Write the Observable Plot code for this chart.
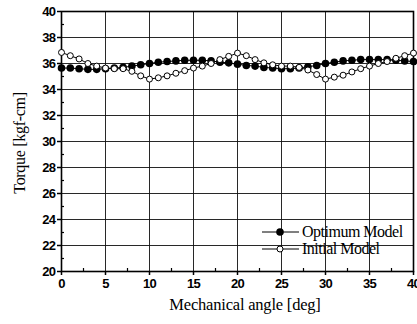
<!DOCTYPE html>
<html>
<head>
<meta charset="utf-8">
<script src="https://cdn.jsdelivr.net/npm/d3@7"></script>
<script src="https://cdn.jsdelivr.net/npm/@observablehq/plot@0.6"></script>
<style>
  html, body { margin: 0; padding: 0; background: #fff; }
  #chart { position: relative; width: 417px; height: 324px; overflow: hidden; }
  #chart svg { display: block; }
  .tick-lab text { font-family: "Liberation Sans", Arial, sans-serif; font-weight: bold; letter-spacing: -0.6px; }
</style>
</head>
<body>
<div id="chart"></div>
<script>
const angles = d3.range(0, 41);
const optimum = [35.65, 35.65, 35.6, 35.55, 35.55, 35.6, 35.65, 35.7, 35.8, 35.9,
                 36.0, 36.1, 36.15, 36.2, 36.25, 36.25, 36.25, 36.2, 36.1, 36.05,
                 35.95, 35.85, 35.8, 35.7, 35.65, 35.6, 35.6, 35.65, 35.75, 35.85,
                 36.0, 36.1, 36.2, 36.25, 36.3, 36.3, 36.3, 36.3, 36.25, 36.2, 36.15];
const initial = [36.85, 36.6, 36.35, 36.0, 35.8, 35.65, 35.6, 35.6, 35.4, 35.05,
                 34.8, 34.9, 35.05, 35.25, 35.45, 35.65, 35.8, 36.0, 36.3, 36.55,
                 36.8, 36.6, 36.3, 36.05, 35.9, 35.8, 35.8, 35.7, 35.5, 35.15,
                 34.8, 34.95, 35.1, 35.35, 35.6, 35.8, 36.0, 36.15, 36.4, 36.6, 36.8];
const xTicks = [0, 5, 10, 15, 20, 25, 30, 35, 40];
const yTicks = [20, 22, 24, 26, 28, 30, 32, 34, 36, 38, 40];
const xMinor = [2.5, 7.5, 12.5, 17.5, 22.5, 27.5, 32.5, 37.5];
const yMinor = [21, 23, 25, 27, 29, 31, 33, 35, 37, 39];
const seriesNames = ["Optimum Model", "Initial Model"];
const xTitle = "Mechanical angle [deg]";
const yTitle = "Torque [kgf-cm]";

const optData = angles.map((a, i) => ({a, v: optimum[i]}));
const iniData = angles.map((a, i) => ({a, v: initial[i]}));

const plot = Plot.plot({
  width: 417, height: 324,
  marginLeft: 61, marginRight: 4, marginTop: 11, marginBottom: 53,
  style: {background: "#fff", color: "#000", overflow: "visible"},
  x: {domain: [0, 40]},
  y: {domain: [20, 40]},
  marks: [
    Plot.gridX(xTicks.slice(1, -1), {stroke: "#111", strokeOpacity: 0.9, strokeWidth: 1}),
    Plot.gridY(yTicks.slice(1, -1), {stroke: "#111", strokeOpacity: 0.9, strokeWidth: 1}),
    Plot.axisX(xMinor, {tickSize: -3, tickFormat: () => "", label: null, strokeWidth: 1.2}),
    Plot.axisY(yMinor, {tickSize: -3, tickFormat: () => "", label: null, strokeWidth: 1.2}),
    Plot.axisX(xTicks, {tickSize: 4, tickPadding: 3, fontSize: 13, label: null, strokeWidth: 1.5, className: "tick-lab"}),
    Plot.axisY(yTicks, {tickSize: 4, tickPadding: 2, fontSize: 13, label: null, strokeWidth: 1.5, className: "tick-lab"}),
    Plot.frame({stroke: "#000", strokeWidth: 1.6}),
    Plot.line(optData, {x: "a", y: "v", stroke: "#000", strokeWidth: 1}),
    Plot.dot(optData, {x: "a", y: "v", r: 3.8, fill: "#000", stroke: "none"}),
    Plot.line(iniData, {x: "a", y: "v", stroke: "#000", strokeWidth: 1}),
    Plot.dot(iniData, {x: "a", y: "v", r: 3, fill: "#fff", stroke: "#000", strokeWidth: 1})
  ]
});
document.getElementById("chart").appendChild(plot);

const svg = d3.select(plot);
const serif = "'Liberation Serif', 'Times New Roman', serif";
svg.append("text").attr("x", 245).attr("y", 310).attr("text-anchor", "middle")
  .attr("font-family", serif).attr("font-size", 16.5).attr("letter-spacing", "-0.2px").attr("fill", "#000").text(xTitle);
svg.append("text").attr("transform", "translate(25,143) rotate(-90)").attr("text-anchor", "middle")
  .attr("font-family", serif).attr("font-size", 16).attr("letter-spacing", "-0.3px").attr("fill", "#000").text(yTitle);

// legend
const lg = svg.append("g");
const rows = [{name: seriesNames[0], filled: true, y: 232}, {name: seriesNames[1], filled: false, y: 249}];
rows.forEach(r => {
  lg.append("line").attr("x1", 262).attr("x2", 299).attr("y1", r.y).attr("y2", r.y).attr("stroke", "#000").attr("stroke-width", 1);
  lg.append("circle").attr("cx", 280).attr("cy", r.y).attr("r", r.filled ? 3.8 : 3)
    .attr("fill", r.filled ? "#000" : "#fff").attr("stroke", r.filled ? "none" : "#000");
  lg.append("text").attr("x", 302).attr("y", r.y + 5).attr("text-anchor", "start").attr("font-family", serif).attr("font-size", 16)
    .attr("letter-spacing", "-0.5px").attr("fill", "#000").text(r.name);
});
</script>
</body>
</html>
